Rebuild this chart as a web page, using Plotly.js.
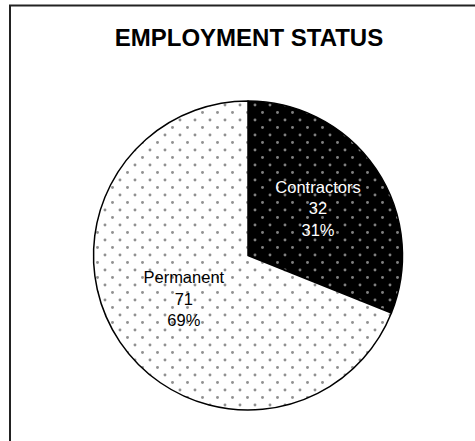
<!DOCTYPE html>
<html>
<head>
<meta charset="utf-8">
<script src="https://cdn.plot.ly/plotly-3.0.1.min.js"></script>
<style>html,body{margin:0;padding:0;background:#fff;}#chart{width:475px;height:441px;}</style>
</head>
<body>
<div id="chart"></div>
<script>
var categories = ["Contractors", "Permanent"];
var counts = [32, 71];
var percentLabels = ["31%", "69%"];
var chartTitle = "EMPLOYMENT STATUS";

var trace = {
  type: "pie",
  labels: categories,
  values: counts,
  customdata: percentLabels,
  sort: false,
  direction: "clockwise",
  rotation: 0,
  texttemplate: "%{label}<br>%{value}<br>%{customdata}",
  textposition: "inside",
  insidetextorientation: "horizontal",
  hoverinfo: "none",
  textfont: {family: "Liberation Sans, Arial, sans-serif", size: 16.5, color: ["#ffffff", "#000000"]},
  marker: {
    colors: ["#000000", "#ffffff"],
    line: {color: "#000000", width: 1.5},
    pattern: {
      shape: ".",
      fillmode: "overlay",
      fgcolor: ["#ffffff", "#222222"],
      size: 15,
      solidity: 0.03
    }
  },
  showlegend: false
};

var W = 475, H = 441;
var m = {l: 93, r: 72, t: 101, b: 31};
var pw = W - m.l - m.r, ph = H - m.t - m.b;
function px(x) { return (x - m.l) / pw; }
function py(y) { return (H - m.b - y) / ph; }

var layout = {
  width: W, height: H,
  margin: m,
  paper_bgcolor: "#ffffff",
  plot_bgcolor: "#ffffff",
  title: {
    text: chartTitle,
    font: {family: "Liberation Sans, Arial, sans-serif", size: 24, color: "#000000", weight: "bold"},
    xref: "container", yref: "container",
    x: 249 / W, xanchor: "center",
    y: 1 - 38 / H, yanchor: "middle"
  },
  shapes: [
    {type: "line", xref: "paper", yref: "paper", x0: px(10), x1: px(10), y0: py(460), y1: py(5.5), line: {color: "#222222", width: 2}},
    {type: "line", xref: "paper", yref: "paper", x0: px(9), x1: px(490), y0: py(5.5), y1: py(5.5), line: {color: "#222222", width: 2}}
  ]
};

Plotly.newPlot("chart", [trace], layout, {displayModeBar: false, staticPlot: true}).then(function (gd) {
  // make the dot pattern staggered (add a dot at each tile corner)
  var pats = gd.querySelectorAll("pattern");
  pats.forEach(function (p) {
    var c = p.querySelector("circle");
    if (!c) return;
    var w = parseFloat(p.getAttribute("width"));
    var h = parseFloat(p.getAttribute("height"));
    [[0, 0], [w, 0], [0, h], [w, h]].forEach(function (pt) {
      var n = c.cloneNode(true);
      n.setAttribute("cx", pt[0]);
      n.setAttribute("cy", pt[1]);
      c.parentNode.appendChild(n);
    });
  });
});
</script>
</body>
</html>
